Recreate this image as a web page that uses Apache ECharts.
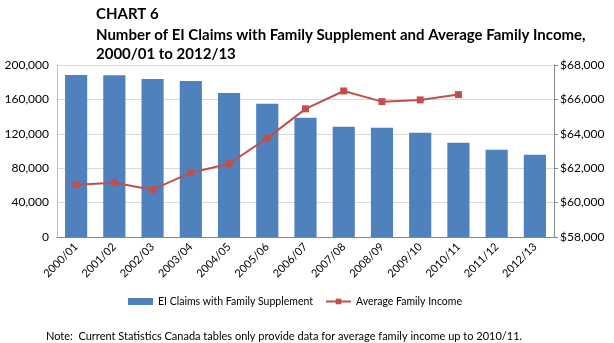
<!DOCTYPE html>
<html>
<head>
<meta charset="utf-8">
<script src="https://cdn.jsdelivr.net/npm/echarts@6/dist/echarts.min.js"></script>
<style>html,body{margin:0;padding:0;background:#fff;}#c{width:614px;height:343px;}</style>
</head>
<body>
<div id="c"></div>
<script>
const categories = ['2000/01','2001/02','2002/03','2003/04','2004/05','2005/06','2006/07','2007/08','2008/09','2009/10','2010/11','2011/12','2012/13'];
const claims = [188400, 188200, 183800, 181400, 167500, 154800, 138600, 128100, 127000, 121200, 109600, 101400, 95700];
const income = [61040, 61160, 60750, 61740, 62260, 63750, 65450, 66490, 65870, 65970, 66280, null, null];
const claimsTicks = [0, 40000, 80000, 120000, 160000, 200000];
const incomeTicks = [58000, 60000, 62000, 64000, 66000, 68000];

const FONT = 'Lato';
const fmt = v => v.toLocaleString('en-US');
const chart = echarts.init(document.getElementById('c'), null, {renderer: 'canvas'});
chart.setOption({
  animation: false,
  textStyle: {fontFamily: FONT},
  title: [
    {text: 'CHART 6', left: 91, top: 2, textStyle: {fontFamily: FONT, fontSize: 15, fontWeight: 'bold', color: '#000'}},
    {text: 'Number of EI Claims with Family Supplement and Average Family Income,\n2000/01 to 2012/13', left: 91, top: 21, textStyle: {fontFamily: FONT, fontSize: 15, fontWeight: 'bold', color: '#000', lineHeight: 19}},
    {text: 'Note:  Current Statistics Canada tables only provide data for average family income up to 2010/11.', left: 41, top: 326, textStyle: {fontFamily: FONT, fontSize: 11, fontWeight: 'normal', color: '#000'}}
  ],
  grid: {left: 57, right: 60, top: 65, bottom: 106, containLabel: false},
  legend: {
    left: 123, top: 291, itemGap: 12, itemWidth: 25, itemHeight: 7,
    textStyle: {fontFamily: FONT, fontSize: 10.5, color: '#000'},
    data: [
      {name: 'EI Claims with Family Supplement', icon: 'rect'},
      {name: 'Average Family Income'}
    ]
  },
  xAxis: {
    type: 'category', data: categories,
    axisLine: {lineStyle: {color: '#868686'}},
    axisTick: {show: false},
    axisLabel: {rotate: 45, fontSize: 11, color: '#000', interval: 0, margin: 8}
  },
  yAxis: [
    {
      type: 'value', min: claimsTicks[0], max: claimsTicks[claimsTicks.length - 1], interval: 40000,
      axisLine: {show: true, lineStyle: {color: '#BFBFBF'}},
      axisTick: {show: false},
      splitLine: {lineStyle: {color: '#D9D9D9'}},
      axisLabel: {formatter: v => fmt(v), fontSize: 12, color: '#000', margin: 8}
    },
    {
      type: 'value', min: incomeTicks[0], max: incomeTicks[incomeTicks.length - 1], interval: 2000,
      position: 'right',
      axisLine: {show: true, lineStyle: {color: '#868686'}},
      axisTick: {show: true, inside: false, length: 4, lineStyle: {color: '#868686'}},
      splitLine: {show: false},
      axisLabel: {formatter: v => '$' + fmt(v), fontSize: 12, color: '#000', margin: 6}
    }
  ],
  series: [
    {
      name: 'EI Claims with Family Supplement', type: 'bar', data: claims,
      yAxisIndex: 0, barCategoryGap: '42%',
      itemStyle: {color: '#4F81BD'}
    },
    {
      name: 'Average Family Income', type: 'line', data: income,
      yAxisIndex: 1, symbol: 'rect', symbolSize: 7,
      lineStyle: {color: '#C0504D', width: 2},
      itemStyle: {color: '#C0504D'}
    }
  ]
});
</script>
</body>
</html>
